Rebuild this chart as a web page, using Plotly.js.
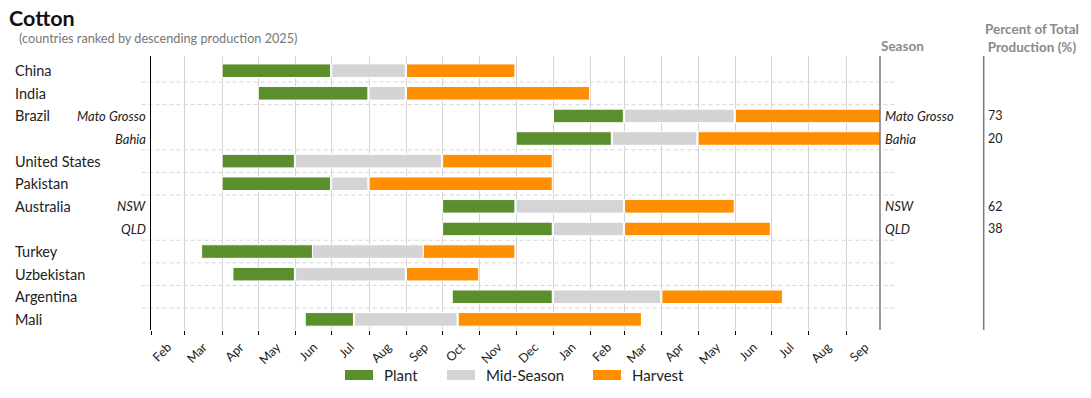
<!DOCTYPE html>
<html>
<head>
<meta charset="utf-8">
<script src="https://cdn.plot.ly/plotly-3.0.1.min.js"></script>
<style>
  html, body { margin: 0; padding: 0; background: #fff; }
  #chart { width: 1091px; height: 398px; }
</style>
</head>
<body>
<div id="chart"></div>
<script>
// ---------------- data ----------------
const countries = ["China", "India", "Brazil", "Brazil", "United States", "Pakistan",
                   "Australia", "Australia", "Turkey", "Uzbekistan", "Argentina", "Mali"];
const regions   = ["", "", "Mato Grosso", "Bahia", "", "", "NSW", "QLD", "", "", "", ""];
const sharePct  = [null, null, 73, 20, null, null, 62, 38, null, null, null, null];

const plantStart   = ["2021-04-01","2021-05-01","2022-01-01","2021-12-01","2021-04-01","2021-04-01",
                      "2021-10-01","2021-10-01","2021-03-15","2021-04-10","2021-10-09","2021-06-09"];
const plantEnd     = ["2021-06-30","2021-07-31","2022-02-28","2022-02-18","2021-05-31","2021-06-30",
                      "2021-11-30","2021-12-31","2021-06-15","2021-05-31","2021-12-31","2021-07-19"];
const midStart     = ["2021-07-01","2021-08-01","2022-03-01","2022-02-19","2021-06-01","2021-07-01",
                      "2021-12-01","2022-01-01","2021-06-15","2021-06-01","2022-01-01","2021-07-20"];
const midEnd       = ["2021-08-31","2021-08-31","2022-05-31","2022-04-30","2021-09-30","2021-07-31",
                      "2022-02-28","2022-02-28","2021-09-15","2021-08-31","2022-03-31","2021-10-13"];
const harvestStart = ["2021-09-01","2021-09-01","2022-06-01","2022-05-01","2021-10-01","2021-08-01",
                      "2022-03-01","2022-03-01","2021-09-15","2021-09-01","2022-04-01","2021-10-14"];
const harvestEnd   = ["2021-11-30","2022-01-31","2022-09-30","2022-09-30","2021-12-31","2021-12-31",
                      "2022-05-31","2022-06-30","2021-11-30","2021-10-31","2022-07-10","2022-03-15"];

const stageNames  = ["Plant", "Mid-Season", "Harvest"];
const stageColors = ["#5b8e2c", "#d4d3d5", "#ff8f00"];

const xRange = ["2021-02-01", "2022-09-29"];
const FONT = "Lato, 'Noto Sans', sans-serif";

// ---------------- build ----------------
const rowIds = countries.map((c, i) => regions[i] ? c + " – " + regions[i] : c);
const dur = (s, e) => Date.parse(e + "T00:00:00Z") - Date.parse(s + "T00:00:00Z");

const stages = [[plantStart, plantEnd], [midStart, midEnd], [harvestStart, harvestEnd]];
const traces = stages.map(([st, en], k) => ({
  type: "bar",
  orientation: "h",
  name: stageNames[k],
  y: rowIds,
  base: st,
  x: st.map((s, i) => dur(s, en[i])),
  width: 0.6,
  marker: { color: stageColors[k], line: { color: "#ffffff", width: 1 } },
  hoverinfo: "skip",
  showlegend: false
}));

// paper-x helper from pixel (plot area 151..880)
const L = 151, R = 880, T = 56, B = 330;
const px = v => (v - L) / (R - L);
const py = v => (B - v) / (B - T);

const annotations = [];
const shapes = [];

countries.forEach((c, i) => {
  if (i === 0 || countries[i - 1] !== c) {
    annotations.push({ xref: "paper", yref: "y", x: px(13), y: rowIds[i], xanchor: "left",
      yanchor: "middle", text: c, showarrow: false, font: { family: FONT, size: 14.5, color: "#222" } });
  }
  if (regions[i]) {
    annotations.push({ xref: "paper", yref: "y", x: px(148), y: rowIds[i], xanchor: "right",
      yanchor: "middle", text: "<i>" + regions[i] + "</i>", showarrow: false,
      font: { family: FONT, size: 13, color: "#222" } });
    annotations.push({ xref: "paper", yref: "y", x: px(883), y: rowIds[i], xanchor: "left",
      yanchor: "middle", text: "<i>" + regions[i] + "</i>", showarrow: false,
      font: { family: FONT, size: 13, color: "#222" } });
  }
  if (sharePct[i] !== null) {
    annotations.push({ xref: "paper", yref: "y", x: px(985.5), y: rowIds[i], xanchor: "left",
      yanchor: "middle", text: String(sharePct[i]), showarrow: false,
      font: { family: FONT, size: 12.5, color: "#222" } });
  }
  if (i > 0 && countries[i - 1] !== c) {
    shapes.push({ type: "line", xref: "paper", yref: "y", x0: px(141.5), x1: px(895),
      y0: i - 0.5, y1: i - 0.5, layer: "below",
      line: { color: "#d6d6d6", width: 1, dash: "4px,3px" } });
  }
});

// column headers
annotations.push({ xref: "paper", yref: "paper", x: px(879), y: py(45.5), xanchor: "left", yanchor: "middle",
  text: "<b>Season</b>", showarrow: false, font: { family: FONT, size: 13.5, color: "#8a8a8a" } });
annotations.push({ xref: "paper", yref: "paper", x: px(1031.5), y: py(38), xanchor: "center", yanchor: "middle",
  text: "<b>Percent of Total<br>Production (%)</b>", showarrow: false,
  font: { family: FONT, size: 13.5, color: "#8a8a8a" } });

// subtitle
annotations.push({ xref: "paper", yref: "paper", x: px(16.5), y: py(38), xanchor: "left", yanchor: "middle",
  text: "(countries ranked by descending production 2025)", showarrow: false,
  font: { family: FONT, size: 12.7, color: "#777" } });

// vertical column separators
shapes.push({ type: "line", xref: "paper", yref: "paper", x0: 1, x1: 1, y0: 0, y1: 1,
  line: { color: "#7a7a7a", width: 1.5 } });
shapes.push({ type: "line", xref: "paper", yref: "paper", x0: px(983.7), x1: px(983.7), y0: 0, y1: 1,
  line: { color: "#7a7a7a", width: 1.5 } });

// custom legend
const legendX = [345, 447, 593];
stageNames.forEach((n, k) => {
  shapes.push({ type: "rect", xref: "paper", yref: "paper",
    x0: px(legendX[k]), x1: px(legendX[k] + 28), y0: py(370), y1: py(380),
    line: { width: 0 }, fillcolor: stageColors[k] });
  annotations.push({ xref: "paper", yref: "paper", x: px(legendX[k] + 37), y: py(375),
    xanchor: "left", yanchor: "middle", text: n, showarrow: false,
    font: { family: FONT, size: 15, color: "#222" } });
});

const layout = {
  width: 1091, height: 398,
  margin: { l: L, r: 1091 - R, t: T, b: 398 - B, pad: 0 },
  paper_bgcolor: "#fff", plot_bgcolor: "#fff",
  title: { text: "<b>Cotton</b>", x: 9 / 1091, xanchor: "left", xref: "container",
    y: 1 - 18 / 398, yanchor: "middle", yref: "container",
    font: { family: FONT, size: 21.5, color: "#111" } },
  barmode: "overlay",
  showlegend: false,
  xaxis: {
    type: "date", range: xRange, dtick: "M1", tick0: "2021-02-01",
    tickformat: "%b", ticklabelmode: "period", tickangle: -45,
    ticks: "outside", ticklen: 4, tickcolor: "#000", tickwidth: 1,
    showgrid: true, gridcolor: "#d4d4d4", gridwidth: 1,
    showline: false, zeroline: false, layer: "above traces",
    tickfont: { family: FONT, size: 12.5, color: "#222" }, fixedrange: true
  },
  yaxis: {
    type: "category", categoryorder: "array", categoryarray: rowIds,
    range: [11.47, -0.65],
    showticklabels: false, ticks: "", showgrid: false, zeroline: false,
    showline: true, linecolor: "#000", linewidth: 1.5, layer: "above traces", fixedrange: true
  },
  annotations: annotations,
  shapes: shapes
};

Plotly.newPlot("chart", traces, layout, { staticPlot: true, displayModeBar: false });
</script>
</body>
</html>
